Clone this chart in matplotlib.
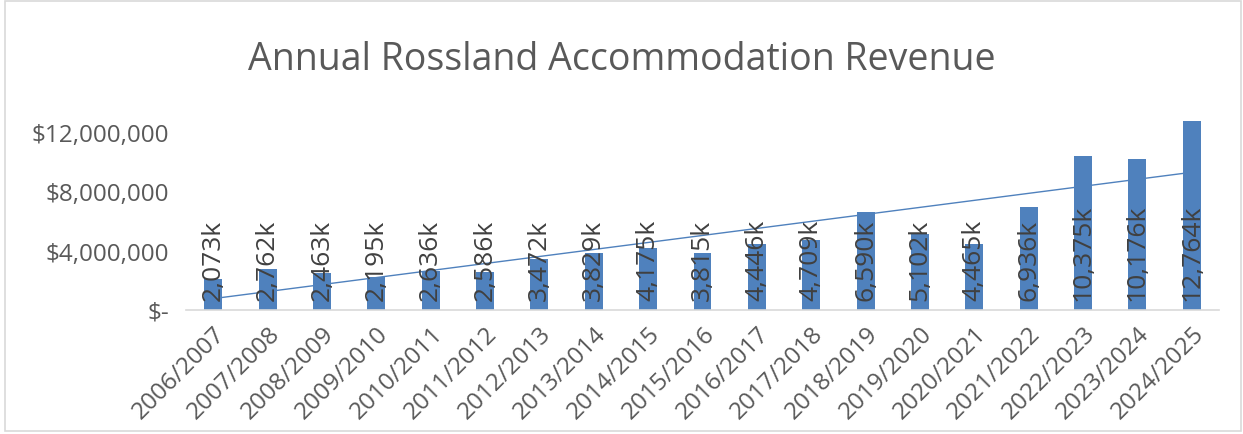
import numpy as np
import matplotlib.pyplot as plt
from matplotlib.patches import Rectangle

## data
seasons = ["2006/2007", "2007/2008", "2008/2009", "2009/2010", "2010/2011",
           "2011/2012", "2012/2013", "2013/2014", "2014/2015", "2015/2016",
           "2016/2017", "2017/2018", "2018/2019", "2019/2020", "2020/2021",
           "2021/2022", "2022/2023", "2023/2024", "2024/2025"]
revenue_k = [2073, 2762, 2463, 2195, 2636, 2586, 3472, 3829, 4175, 3815,
             4446, 4709, 6590, 5102, 4465, 6936, 10375, 10176, 12764]
yticks = [0, 4000000, 8000000, 12000000]
ytick_labels = ["$-", "$4,000,000", "$8,000,000", "$12,000,000"]

plt.rcParams['font.family'] = ['Open Sans', 'DejaVu Sans']
bar_col = "#4F81BD"
txt_col = "#595959"

revenue = np.array(revenue_k) * 1000.0
x = np.arange(len(seasons))

fig = plt.figure(figsize=(12.43, 4.35), dpi=100)
ax = fig.add_axes([186/1243, 1-311/435, 1033/1243, (311-103.5)/435])

ax.bar(x, revenue, width=0.33, color=bar_col, zorder=2)

## linear trendline like excel
k, b = np.polyfit(x, revenue, 1)
ax.plot(x, k*x + b, color=bar_col, lw=1, zorder=3)

for xi, v in zip(x, revenue_k):
    ax.annotate(f"{v:,}k", (xi, 0), xytext=(0, 7), textcoords='offset points',
                rotation=90, ha='center', va='bottom',
                fontsize=19, color="#404040", zorder=4)

ax.set_xlim(-0.5, len(seasons)-0.5)
ax.set_ylim(0, 14000000)
ax.set_yticks(yticks)
ax.set_yticklabels(ytick_labels, fontsize=17.5, color=txt_col)
ax.set_xticks(x)
ax.set_xticklabels(seasons, rotation=45, ha='right', rotation_mode='anchor',
                   fontsize=17.5, color=txt_col)
ax.tick_params(length=0, pad=12)
ax.tick_params(axis='x', pad=8)
for s in ['top', 'right', 'left']:
    ax.spines[s].set_visible(False)
ax.spines['bottom'].set_color("#D9D9D9")
ax.spines['bottom'].set_linewidth(1.2)

fig.text(0.5, 1-60/435, "Annual Rossland Accommodation Revenue", ha='center',
         va='center', fontsize=27, color=txt_col)

fig.patches.append(Rectangle((5/1243, 3/435), 1236/1243, 430/435,
                             transform=fig.transFigure, fill=False,
                             edgecolor="#D9D9D9", lw=1.2))

fig.savefig("out.png", dpi=100)
